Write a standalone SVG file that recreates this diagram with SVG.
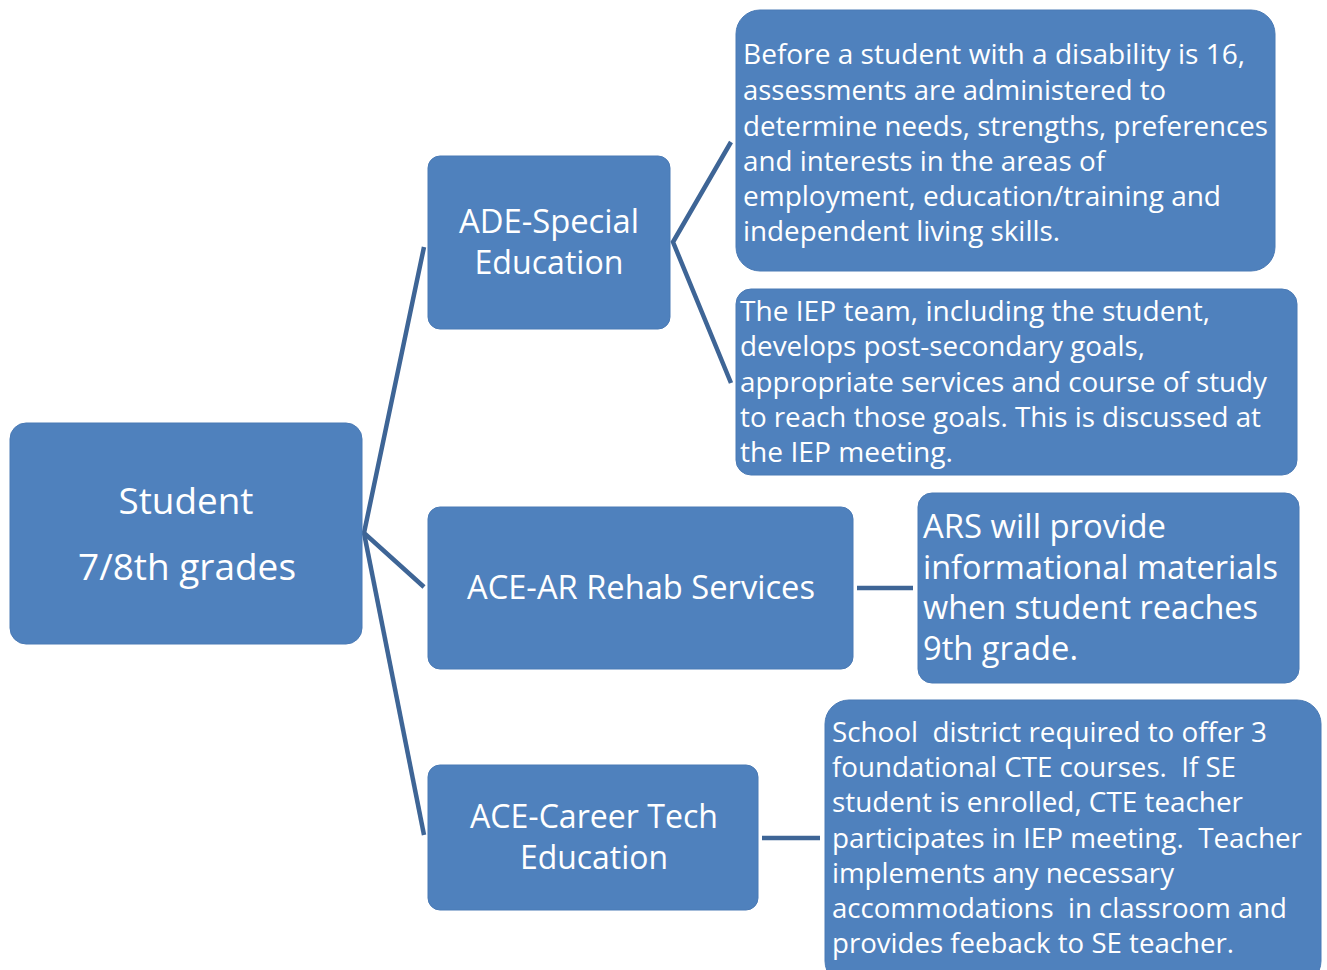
<svg xmlns="http://www.w3.org/2000/svg" width="1327" height="970" viewBox="0 0 1327 970">
<style>
.box{fill:#4f81bd;stroke:#4a7ab5;stroke-width:1}
.t{font-family:"Open Sans","Liberation Sans",sans-serif;fill:#ffffff}
.s{font-size:27px}
.m{font-size:32px}
.l{font-size:36px}
.c{text-anchor:middle}
.con{stroke:#3e6596;stroke-width:4.5;fill:none}
</style>
<rect width="1327" height="970" fill="#ffffff"/>
<g id="connectors">
<polyline class="con" points="424,247 364,533 424,587"/>
<line class="con" x1="364" y1="533" x2="424" y2="835"/>
<polyline class="con" points="731,142 673,242 731,383"/>
<line class="con" x1="857" y1="588" x2="913" y2="588"/>
<line class="con" x1="762" y1="838" x2="820" y2="838"/>
</g>
<g id="student">
<rect class="box" x="10" y="423" width="352" height="221" rx="16"/>
<text class="t l c" x="186" y="514" textLength="135" lengthAdjust="spacingAndGlyphs">Student</text>
<text class="t l c" x="187" y="580" textLength="218" lengthAdjust="spacingAndGlyphs">7/8th grades</text>
</g>
<g id="ade">
<rect class="box" x="428" y="156" width="242" height="173" rx="12"/>
<text class="t m c" x="549" y="233" textLength="180" lengthAdjust="spacingAndGlyphs">ADE-Special</text>
<text class="t m c" x="549" y="274" textLength="149" lengthAdjust="spacingAndGlyphs">Education</text>
</g>
<g id="rehab">
<rect class="box" x="428" y="507" width="425" height="162" rx="12"/>
<text class="t m c" x="641" y="599" textLength="348" lengthAdjust="spacingAndGlyphs">ACE-AR Rehab Services</text>
</g>
<g id="career">
<rect class="box" x="428" y="765" width="330" height="145" rx="12"/>
<text class="t m c" x="594" y="828" textLength="248" lengthAdjust="spacingAndGlyphs">ACE-Career Tech</text>
<text class="t m c" x="594" y="869" textLength="148" lengthAdjust="spacingAndGlyphs">Education</text>
</g>
<g id="assess">
<rect class="box" x="736" y="10" width="539" height="261" rx="24"/>
<text class="t s" x="743" y="64" textLength="502" lengthAdjust="spacingAndGlyphs">Before a student with a disability is 16,</text>
<text class="t s" x="743" y="100" textLength="423" lengthAdjust="spacingAndGlyphs">assessments are administered to</text>
<text class="t s" x="743" y="136" textLength="525" lengthAdjust="spacingAndGlyphs">determine needs, strengths, preferences</text>
<text class="t s" x="743" y="171" textLength="362" lengthAdjust="spacingAndGlyphs">and interests in the areas of</text>
<text class="t s" x="743" y="206" textLength="478" lengthAdjust="spacingAndGlyphs">employment, education/training and</text>
<text class="t s" x="743" y="241" textLength="317" lengthAdjust="spacingAndGlyphs">independent living skills.</text>
</g>
<g id="iep">
<rect class="box" x="736" y="289" width="561" height="186" rx="15"/>
<text class="t s" x="740" y="321" textLength="470" lengthAdjust="spacingAndGlyphs">The IEP team, including the student,</text>
<text class="t s" x="740" y="356" textLength="405" lengthAdjust="spacingAndGlyphs">develops post-secondary goals,</text>
<text class="t s" x="740" y="392" textLength="527" lengthAdjust="spacingAndGlyphs">appropriate services and course of study</text>
<text class="t s" x="740" y="427" textLength="521" lengthAdjust="spacingAndGlyphs">to reach those goals. This is discussed at</text>
<text class="t s" x="740" y="462" textLength="213" lengthAdjust="spacingAndGlyphs">the IEP meeting.</text>
</g>
<g id="ars">
<rect class="box" x="918" y="493" width="381" height="190" rx="14"/>
<text class="t m" x="923" y="538" textLength="243" lengthAdjust="spacingAndGlyphs">ARS will provide</text>
<text class="t m" x="923" y="579" textLength="355" lengthAdjust="spacingAndGlyphs">informational materials</text>
<text class="t m" x="923" y="619" textLength="335" lengthAdjust="spacingAndGlyphs">when student reaches</text>
<text class="t m" x="923" y="660" textLength="155" lengthAdjust="spacingAndGlyphs">9th grade.</text>
</g>
<g id="school">
<rect class="box" x="825" y="700" width="496" height="285" rx="24"/>
<text class="t s" x="832" y="742" textLength="435" lengthAdjust="spacingAndGlyphs" xml:space="preserve">School  district required to offer 3</text>
<text class="t s" x="832" y="777" textLength="404" lengthAdjust="spacingAndGlyphs" xml:space="preserve">foundational CTE courses.  If SE</text>
<text class="t s" x="832" y="812" textLength="411" lengthAdjust="spacingAndGlyphs">student is enrolled, CTE teacher</text>
<text class="t s" x="832" y="848" textLength="470" lengthAdjust="spacingAndGlyphs" xml:space="preserve">participates in IEP meeting.  Teacher</text>
<text class="t s" x="832" y="883" textLength="342" lengthAdjust="spacingAndGlyphs">implements any necessary</text>
<text class="t s" x="832" y="918" textLength="455" lengthAdjust="spacingAndGlyphs" xml:space="preserve">accommodations  in classroom and</text>
<text class="t s" x="832" y="953" textLength="402" lengthAdjust="spacingAndGlyphs">provides feeback to SE teacher.</text>
</g>
</svg>
